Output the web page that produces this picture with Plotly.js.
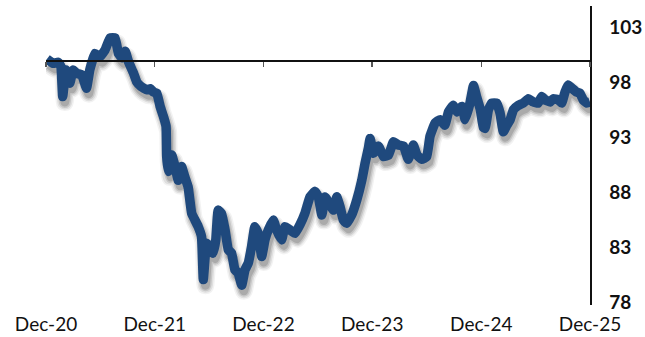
<!DOCTYPE html>
<html>
<head>
<meta charset="utf-8">
<script src="https://cdn.plot.ly/plotly-3.0.1.min.js"></script>
<style>
html,body{margin:0;padding:0;background:#fff;}
#chart{width:645px;height:337px;}
</style>
</head>
<body>
<div id="chart"></div>
<script>
// ---- data ----
const dates = [
"2021-01-03","2021-01-24","2021-02-10","2021-02-19","2021-02-25","2021-03-08","2021-03-21","2021-04-01","2021-04-13","2021-04-30",
"2021-05-16","2021-05-27","2021-06-13","2021-06-30","2021-07-17","2021-08-03","2021-08-20","2021-08-31","2021-09-12","2021-09-23",
"2021-10-04","2021-10-21","2021-11-01","2021-11-15","2021-12-05","2021-12-16","2021-12-27","2022-01-07","2022-01-18","2022-01-29",
"2022-02-07","2022-02-09","2022-02-14","2022-02-26","2022-03-09","2022-03-20","2022-03-31","2022-04-11","2022-04-22","2022-05-04",
"2022-05-15","2022-05-26","2022-06-06","2022-06-12","2022-06-23","2022-07-04","2022-07-15","2022-07-24","2022-08-01","2022-08-12",
"2022-08-24","2022-09-04","2022-09-15","2022-09-26","2022-10-07","2022-10-19","2022-10-30","2022-11-10","2022-11-21","2022-12-02",
"2022-12-13","2022-12-25","2023-01-05","2023-01-16","2023-02-02","2023-02-13","2023-03-02","2023-03-13","2023-03-30","2023-04-16",
"2023-05-03","2023-05-19","2023-06-05","2023-06-22","2023-07-03","2023-07-15","2023-07-26","2023-08-11","2023-08-23","2023-09-03",
"2023-09-14","2023-09-25","2023-10-06","2023-10-23","2023-11-09","2023-11-26","2023-12-07","2023-12-18","2023-12-24","2024-01-04",
"2024-01-21","2024-02-07","2024-02-24","2024-03-11","2024-03-28","2024-04-14","2024-04-30","2024-05-17","2024-05-29","2024-06-14",
"2024-07-01","2024-07-12","2024-07-29","2024-08-15","2024-08-31","2024-09-12","2024-09-28","2024-10-10","2024-10-27","2024-11-07",
"2024-11-23","2024-12-05","2024-12-16","2024-12-28","2025-01-07","2025-01-13","2025-01-24","2025-02-04","2025-02-21","2025-03-04",
"2025-03-15","2025-03-27","2025-04-07","2025-04-18","2025-05-05","2025-05-21","2025-06-07","2025-06-24","2025-07-10","2025-07-22",
"2025-08-02","2025-08-19","2025-08-30","2025-09-16","2025-09-27","2025-10-08","2025-10-19","2025-10-31","2025-11-16","2025-11-27",
"2025-12-08","2025-12-20","2025-12-31"
];
const values = [
100.1,99.7,99.8,99.4,96.7,99.1,97.9,99.1,98.8,98.65,
97.45,99.1,100.6,100.3,100.9,102.0,102.0,100.6,100.2,100.8,
99.85,98.8,98.0,97.6,97.3,97.4,97.1,97.0,95.8,94.9,
94.0,91.3,89.9,91.4,90.35,89.1,90.35,89.4,88.5,86.1,
85.5,84.9,84.0,80.1,83.4,83.1,82.5,83.7,86.4,86.1,
84.6,82.8,82.5,81.0,80.7,79.6,81.0,81.6,83.1,84.9,
84.3,82.2,83.7,84.6,85.5,84.6,83.7,84.9,84.6,84.3,
85.1,86.1,87.6,88.1,87.6,85.95,87.6,86.9,86.4,87.6,
86.7,85.5,85.2,85.95,87.3,89.1,90.65,92.0,92.9,91.55,
92.2,91.25,91.4,92.6,92.3,92.2,91.0,92.3,91.4,91.0,
91.25,93.1,94.3,94.6,94.1,95.3,95.9,95.3,95.8,94.6,
96.1,97.7,96.6,95.5,93.9,93.8,95.5,96.1,96.1,95.2,
93.5,94.1,94.6,95.5,95.9,96.1,96.5,96.2,96.1,96.7,
96.4,96.2,96.5,96.4,96.1,97.1,97.75,97.45,97.1,97.0,
96.4,96.1,96.2
];
const xTickVals = ["2020-12-31","2021-12-31","2022-12-31","2023-12-31","2024-12-31","2025-12-31"];
const xTickText = ["Dec-20","Dec-21","Dec-22","Dec-23","Dec-24","Dec-25"];
const yTickVals = [78,83,88,93,98,103];
const baseValue = 100;

// ---- layout / style ----
const xRange = ["2020-12-31","2025-12-31"];
const yRange = [77.8,104.9];
const basePos = (baseValue - yRange[0]) / (yRange[1] - yRange[0]);

// drop shadow: the same series drawn in soft grey, nudged down/right
const shadowDy = 0.5;       // value units (~5-6px)
const shadowDxDays = 7;     // ~2px
const shadowX = dates.map(function(d){
  const t = new Date(d + "T00:00:00Z").getTime() + shadowDxDays * 864e5;
  return new Date(t).toISOString().slice(0, 10);
});
const shadowY = values.map(function(v){ return v - shadowDy; });
const shadowLayers = [
  {w: 18, c: "rgba(0,0,0,0.05)"},
  {w: 15, c: "rgba(0,0,0,0.08)"},
  {w: 12, c: "rgba(0,0,0,0.11)"},
  {w: 9,  c: "rgba(0,0,0,0.14)"}
];
const shadowTraces = shadowLayers.map(function(s){
  return {x: shadowX, y: shadowY, type: "scatter", mode: "lines",
    line: {color: s.c, width: s.w, shape: "spline", smoothing: 0.3},
    hoverinfo: "skip", showlegend: false};
});

const mainTrace = {
  x: dates, y: values, type: "scatter", mode: "lines",
  line: {color: "#1F497D", width: 9.5, shape: "spline", smoothing: 0.3},
  hoverinfo: "skip", showlegend: false
};

const baseTrace = {x: xRange, y: [baseValue, baseValue], xaxis: "x2", yaxis: "y", type: "scatter", mode: "lines",
  line: {width: 0, color: "rgba(0,0,0,0)"}, hoverinfo: "skip", showlegend: false};

const layout = {
  width: 645, height: 337,
  margin: {l: 46, r: 55, t: 6, b: 32, pad: 0},
  paper_bgcolor: "#ffffff", plot_bgcolor: "#ffffff",
  showlegend: false,
  xaxis: {
    type: "date", range: xRange,
    tickmode: "array", tickvals: xTickVals, ticktext: xTickText,
    showline: false, showgrid: false, zeroline: false, ticks: "",
    tickfont: {family: "Lato, 'Open Sans', sans-serif", size: 19, color: "#111"},
    ticklabelstandoff: 6
  },
  xaxis2: {
    type: "date", range: xRange, overlaying: "x", anchor: "free", position: basePos,
    tickmode: "array", tickvals: xTickVals,
    showticklabels: false, ticks: "outside", ticklen: 5, tickwidth: 1.5, tickcolor: "#555",
    showline: true, linecolor: "#111", linewidth: 1.5, showgrid: false, zeroline: false
  },
  yaxis: {
    side: "right", range: yRange,
    tickmode: "array", tickvals: yTickVals,
    showline: true, linecolor: "#111", linewidth: 1.5,
    showgrid: false, zeroline: false, ticks: "",
    tickfont: {family: "Lato, 'Open Sans', sans-serif", size: 19, color: "#111", weight: 700},
    ticklabelstandoff: 14
  }
};

Plotly.newPlot("chart", [baseTrace].concat(shadowTraces, [mainTrace]), layout,
  {staticPlot: true, displayModeBar: false});
</script>
</body>
</html>
